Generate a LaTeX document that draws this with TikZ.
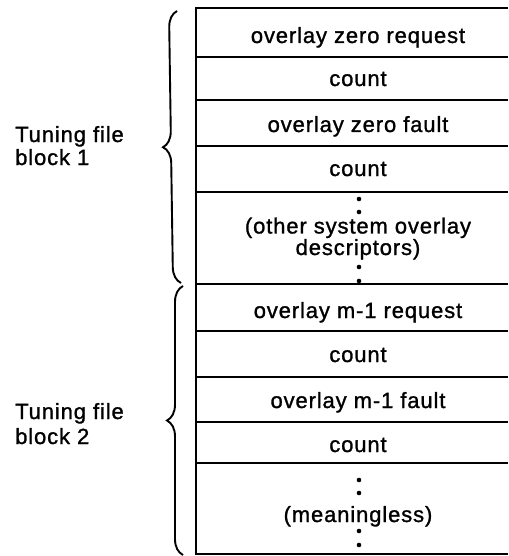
\documentclass[tikz,border=0pt]{standalone}
\usepackage{fontspec}
\setmainfont[LetterSpace=4, FakeBold=1.2]{Liberation Sans}
\usetikzlibrary{decorations.pathreplacing}

\begin{document}
\begin{tikzpicture}[x=1pt, y=-1pt, every node/.style={inner sep=0pt, anchor=base, font=\fontsize{22}{20}\selectfont},
    rule/.style={line width=1.7pt}, frame/.style={line width=2.6pt},
    brc/.style={decorate, decoration={brace, amplitude=16pt}, line width=1.9pt}]
    \useasboundingbox (0,0) rectangle (508,556);
    \foreach \y in {57,100,146,192,284,331,377,422,463,554}
        \draw[rule] (196,\y) -- (508,\y);
    \draw[frame] (196,555) -- (196,8) -- (508,8);
    \node (r0) at (358,43) {overlay zero request};
    \node (c1) at (358,86) {count};
    \node (f0) at (358,132) {overlay zero fault};
    \node (c2) at (358,176) {count};
    \node[align=center] (other) at (358,255) {(other system overlay\\descriptors)};
    \node (rm) at (358,318) {overlay m-1 request};
    \node (c3) at (358,362) {count};
    \node (fm) at (358,408) {overlay m-1 fault};
    \node (c4) at (358,452) {count};
    \node (none) at (358,522) {(meaningless)};
    \foreach \y in {199,212,267,281,480,493,531,545}
        \fill (359,\y) circle (2.3pt);
    \draw[brc] (181,283) -- (177,11);
    \draw[brc] (183,555) -- (183,286);
    \node[anchor=base west, align=left, font=\fontsize{22}{23}\selectfont] (b1) at (15,165) {Tuning file\\block 1};
    \node[anchor=base west, align=left, font=\fontsize{22}{25}\selectfont] (b2) at (15,444) {Tuning file\\block 2};
\end{tikzpicture}
\end{document}
